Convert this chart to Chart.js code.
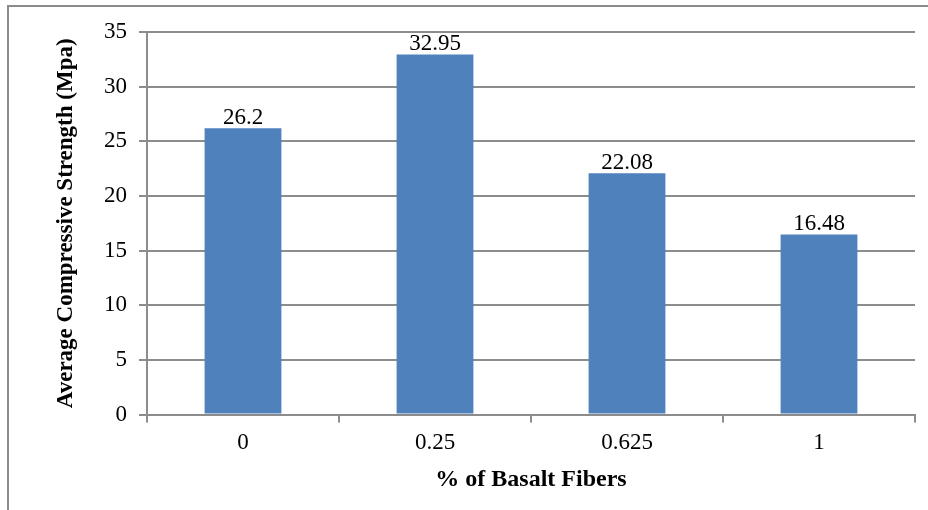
<!DOCTYPE html>
<html>
<head>
<meta charset="utf-8">
<script src="https://cdn.jsdelivr.net/npm/chart.js@4/dist/chart.umd.min.js"></script>
<style>
    html, body { margin: 0; padding: 0; background: #fff; overflow: hidden; }
    #wrap { position: relative; width: 928px; height: 510px; }
    #frame { position: absolute; left: 7px; top: 5px; width: 1000px; height: 600px; border: 2px solid #8c8c8c; box-sizing: border-box; }
    canvas { position: absolute; left: 0; top: 0; }
</style>
</head>
<body>
<div id="wrap">
    <div id="frame"></div>
    <canvas id="chart" width="928" height="510"></canvas>
</div>
<script>
const categories = ['0', '0.25', '0.625', '1'];
const strength = [26.2, 32.95, 22.08, 16.48];
const yTicks = [0, 5, 10, 15, 20, 25, 30, 35];

const serif = "'Liberation Serif', 'Times New Roman', serif";

// value labels above each bar
const barLabels = {
    id: 'barLabels',
    afterDatasetsDraw(chart) {
        const ctx = chart.ctx;
        const meta = chart.getDatasetMeta(0);
        ctx.save();
        ctx.font = '23px ' + serif;
        ctx.fillStyle = '#000';
        ctx.textAlign = 'center';
        ctx.textBaseline = 'alphabetic';
        meta.data.forEach((bar, i) => {
            ctx.fillText(String(strength[i]), bar.x, bar.y - 4);
        });
        ctx.restore();
    }
};

new Chart(document.getElementById('chart').getContext('2d'), {
    type: 'bar',
    data: {
        labels: categories,
        datasets: [{
            data: strength,
            backgroundColor: '#4f81bd',
            barPercentage: 0.4,
            categoryPercentage: 1
        }]
    },
    options: {
        responsive: false,
        animation: false,
        layout: { padding: { left: 0, right: 13, top: 32, bottom: 12 } },
        plugins: { legend: { display: false }, tooltip: { enabled: false } },
        scales: {
            x: {
                grid: { drawOnChartArea: false, offset: true, color: '#8c8c8c', lineWidth: 2, tickLength: 8 },
                border: { color: '#8c8c8c', width: 2 },
                ticks: { color: '#000', font: { family: serif, size: 23 }, padding: 7 },
                title: { display: true, text: '% of Basalt Fibers', color: '#000', font: { family: serif, size: 24, weight: 'bold' }, padding: { top: 1, bottom: 4 } }
            },
            y: {
                min: 0,
                max: 35,
                afterBuildTicks(scale) { scale.ticks = yTicks.map(v => ({ value: v })); },
                afterFit(scale) { scale.width = 147; },
                grid: { color: '#8c8c8c', lineWidth: 2, tickLength: 8 },
                border: { color: '#8c8c8c', width: 2 },
                ticks: { color: '#000', font: { family: serif, size: 23 }, padding: 12 },
                title: { display: true, text: 'Average Compressive Strength (Mpa)', color: '#000', font: { family: serif, size: 23, weight: 'bold' }, padding: { top: 52, bottom: 0 } }
            }
        }
    },
    plugins: [barLabels]
});
</script>
</body>
</html>
